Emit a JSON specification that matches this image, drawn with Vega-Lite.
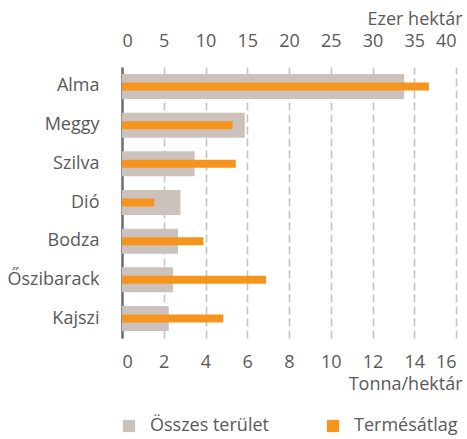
{
  "$schema": "https://vega.github.io/schema/vega-lite/v6.json",
  "width": 334,
  "height": 271,
  "autosize": "none",
  "padding": {"left": 122, "top": 67, "right": 11, "bottom": 101},
  "background": "white",
  "config": {
    "font": "Open Sans",
    "view": {"stroke": null},
    "axis": {"labelColor": "#595959", "titleColor": "#595959", "labelFontSize": 18, "titleFontSize": 18, "titleFontWeight": "normal", "labelFont": "Open Sans", "titleFont": "Open Sans"},
    "legend": {"labelColor": "#595959", "labelFontSize": 18, "labelFont": "Open Sans"}
  },
  "data": {
    "values": [
      {"gyumolcs": "Alma", "terulet": 33.8, "termes": 14.7},
      {"gyumolcs": "Meggy", "terulet": 14.7, "termes": 5.3},
      {"gyumolcs": "Szilva", "terulet": 8.7, "termes": 5.45},
      {"gyumolcs": "Dió", "terulet": 7.0, "termes": 1.55},
      {"gyumolcs": "Bodza", "terulet": 6.7, "termes": 3.9},
      {"gyumolcs": "Őszibarack", "terulet": 6.1, "termes": 6.9},
      {"gyumolcs": "Kajszi", "terulet": 5.6, "termes": 4.85}
    ]
  },
  "encoding": {
    "y": {
      "field": "gyumolcs", "type": "nominal", "sort": null,
      "scale": {"paddingInner": 0.354, "paddingOuter": 0.18},
      "axis": {"title": null, "ticks": false, "labelPadding": 23, "domainColor": "#6d6e71", "domainWidth": 2.5, "grid": false}
    },
    "color": {
      "type": "nominal",
      "scale": {"domain": ["Összes terület", "Termésátlag"], "range": ["#ccc2bd", "#f7941d"]},
      "legend": {"title": null, "orient": "none", "direction": "horizontal", "legendX": -2, "legendY": 350, "padding": 0, "symbolType": "square", "symbolSize": 150, "symbolStrokeWidth": 0, "symbolOpacity": 1, "labelOffset": 12, "columnPadding": 55}
    }
  },
  "layer": [
    {
      "mark": {"type": "bar"},
      "encoding": {
        "x": {
          "field": "terulet", "type": "quantitative",
          "scale": {"domain": [0, 40], "nice": false},
          "axis": {"orient": "top", "title": "Ezer hektár", "values": [0, 5, 10, 15, 20, 25, 30, 35, 40], "grid": false, "domain": false, "ticks": false, "labelPadding": 17, "titleAnchor": "end", "titleAlign": "right", "titleX": 340, "titlePadding": 4}
        },
        "color": {"datum": "Összes terület"}
      }
    },
    {
      "mark": {"type": "bar", "height": 8},
      "encoding": {
        "x": {
          "field": "termes", "type": "quantitative",
          "scale": {"domain": [0, 16], "nice": false},
          "axis": {"orient": "bottom", "title": "Tonna/hektár", "values": [0, 2, 4, 6, 8, 10, 12, 14, 16], "grid": true, "gridColor": "#c4c4c4", "gridWidth": 1.6, "gridDash": [8, 4], "domain": false, "ticks": false, "labelPadding": 15, "titleAnchor": "end", "titleAlign": "right", "titleX": 340, "titlePadding": 4}
        },
        "color": {"datum": "Termésátlag"}
      }
    }
  ],
  "resolve": {"scale": {"x": "independent"}}
}
